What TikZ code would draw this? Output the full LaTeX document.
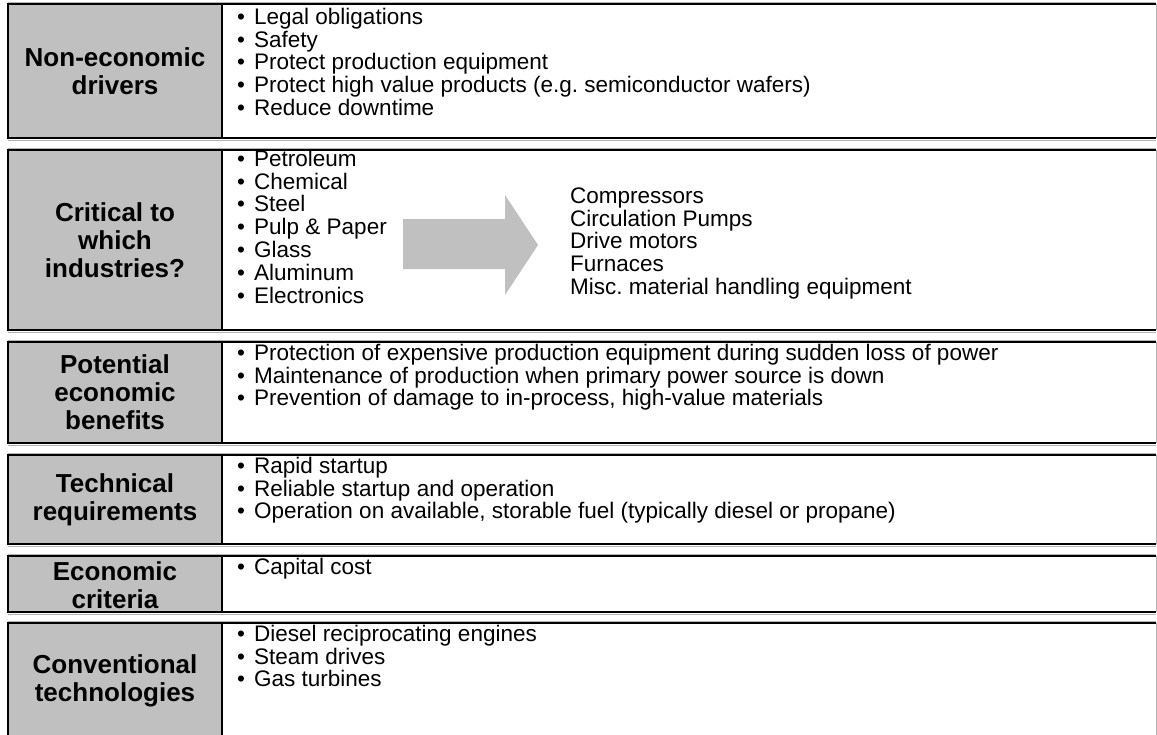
\documentclass[tikz,border=0pt]{standalone}
\usepackage{fontspec}
\setmainfont{Liberation Sans}
\frenchspacing
\definecolor{lblgray}{HTML}{C0C0C0}
\definecolor{edgegray}{HTML}{B4B4B4}
\newcommand\bul{\makebox[17pt][l]{•}}
\newcommand\firststrut{\rule{0pt}{17pt}}
\newcommand\rowbox[2]{%
  \fill[white] (8,#1) rectangle (1156,#2);
  \fill[lblgray] (8,#1) rectangle (222,#2);
  \draw[shade line] (8,#1-2) -- (1156,#1-2);
  \draw[shade line] (8,#2+2) -- (1156,#2+2);
  \draw[edge line] (1156,#1) -- (8,#1) -- (8,#2) -- (1156,#2);
  \draw[mid line] (222,#1) -- (222,#2);
  \draw[right line] (1156,#1) -- (1156,#2);
}
\begin{document}
\begin{tikzpicture}[x=1pt,y=-1pt,
  shade line/.style={edgegray,line width=1pt},
  edge line/.style={black,line width=2pt},
  mid line/.style={black,line width=1.3pt},
  right line/.style={edgegray,line width=1pt},
  lbl/.style={font=\fontsize{26}{28}\selectfont\bfseries,align=center,inner sep=0pt},
  body/.style={font=\fontsize{22.5}{22.8}\selectfont,align=left,anchor=north west,inner sep=0pt},
  bigarrow/.style={fill=lblgray,draw=none}]
\useasboundingbox (0,0) rectangle (1157,734);
\clip (0,0) rectangle (1157,734);
\fill[white] (0,0) rectangle (1157,734);

\rowbox{4}{138}
\rowbox{150}{330}
\rowbox{342}{443}
\rowbox{455}{544}
\rowbox{556}{612}
\rowbox{623}{742}

% labels
\node[lbl] (l1) at (115,71) {Non-economic\\drivers};
\node[lbl] (l2) at (115,240) {Critical to\\which\\industries?};
\node[lbl] (l3) at (115,392.5) {Potential\\economic\\benefits};
\node[lbl] (l4) at (115,499.5) {Technical\\requirements};
\node[lbl] (l5) at (115,585) {Economic\\criteria};
\node[lbl] (l6) at (115,681) {Conventional\\technologies};

% bodies (north edge = first baseline - 17)
\node[body] (b1) at (237,24-17) {\firststrut\bul Legal obligations\\\bul Safety\\\bul Protect production equipment\\\bul Protect high value products (e.g. semiconductor wafers)\\\bul Reduce downtime};
\node[body] (b2) at (237,166-17) {\firststrut\bul Petroleum\\\bul Chemical\\\bul Steel\\\bul Pulp \& Paper\\\bul Glass\\\bul Aluminum\\\bul Electronics};
\node[body] (b2r) at (570,203-17) {\firststrut Compressors\\Circulation Pumps\\Drive motors\\Furnaces\\Misc. material handling equipment};
\node[body] (b3) at (237,360-17) {\firststrut\bul Protection of expensive production equipment during sudden loss of power\\\bul Maintenance of production when primary power source is down\\\bul Prevention of damage to in-process, high-value materials};
\node[body] (b4) at (237,473-17) {\firststrut\bul Rapid startup\\\bul Reliable startup and operation\\\bul Operation on available, storable fuel (typically diesel or propane)};
\node[body] (b5) at (237,574-17) {\firststrut\bul Capital cost};
\node[body] (b6) at (237,641-17) {\firststrut\bul Diesel reciprocating engines\\\bul Steam drives\\\bul Gas turbines};

% arrow
\fill[bigarrow] (403,219) -- (505,219) -- (505,195) -- (538,245) -- (505,295) -- (505,269) -- (403,269) -- cycle;
\end{tikzpicture}
\end{document}
